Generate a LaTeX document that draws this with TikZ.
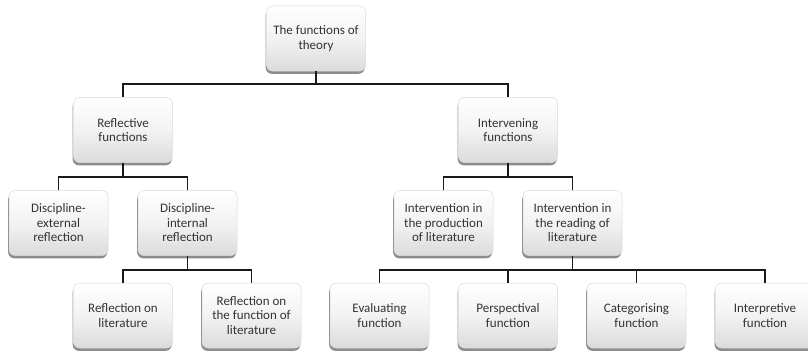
\documentclass[tikz,border=0pt]{standalone}
\usepackage{fontspec}
\setmainfont{Carlito}
\usetikzlibrary{shadows}
\tikzset{
  fbox/.style={rectangle, rounded corners=6pt, minimum width=99pt, minimum height=65pt,
    inner sep=2pt, align=center, draw=black!15, line width=0.5pt,
    top color=white, bottom color=black!14, middle color=white!95!black,
    font=\fontsize{13}{14.5}\selectfont, text=black!80,
    drop shadow={shadow xshift=-0.8pt, shadow yshift=-2.8pt, opacity=0.6, fill=black!75}},
  conn/.style={line width=1.8pt, black!90}
}
\begin{document}
\begin{tikzpicture}[x=1pt,y=-1pt]
\useasboundingbox (0,0) rectangle (808,353);
\fill[white] (0,0) rectangle (808,353);
\node[fbox] (top) at (316,38.5) {The functions of\\theory};
\node[fbox] (refl) at (123,130) {Reflective\\functions};
\node[fbox] (inter) at (508,130) {Intervening\\functions};
\node[fbox] (dext) at (58.5,223) {Discipline-\\external\\reflection};
\node[fbox] (dint) at (187.5,223) {Discipline-\\internal\\reflection};
\node[fbox] (iprod) at (443.5,223) {Intervention in\\the production\\of literature};
\node[fbox] (iread) at (572.5,223) {Intervention in\\the reading of\\literature};
\node[fbox] (rlit) at (123,315.5) {Reflection on\\literature};
\node[fbox] (rfun) at (251.5,315.5) {Reflection on\\the function of\\literature};
\node[fbox] (eval) at (379.5,315.5) {Evaluating\\function};
\node[fbox] (persp) at (508,315.5) {Perspectival\\function};
\node[fbox] (categ) at (636.5,315.5) {Categorising\\function};
\node[fbox] (interp) at (765,315.5) {Interpretive\\function};
% connectors
\draw[conn] (top.south) -- (top.south |- 0,84) -| (refl.north);
\draw[conn] (top.south) -- (top.south |- 0,84) -| (inter.north);
\draw[conn] (refl.south) -- (refl.south |- 0,177) -| (dext.north);
\draw[conn] (refl.south) -- (refl.south |- 0,177) -| (dint.north);
\draw[conn] (inter.south) -- (inter.south |- 0,177) -| (iprod.north);
\draw[conn] (inter.south) -- (inter.south |- 0,177) -| (iread.north);
\draw[conn] (dint.south) -- (dint.south |- 0,270) -| (rlit.north);
\draw[conn] (dint.south) -- (dint.south |- 0,270) -| (rfun.north);
\draw[conn] (iread.south) -- (iread.south |- 0,270) -| (eval.north);
\draw[conn] (iread.south) -- (iread.south |- 0,270) -| (persp.north);
\draw[conn] (iread.south) -- (iread.south |- 0,270) -| (categ.north);
\draw[conn] (iread.south) -- (iread.south |- 0,270) -| (interp.north);
\end{tikzpicture}
\end{document}
